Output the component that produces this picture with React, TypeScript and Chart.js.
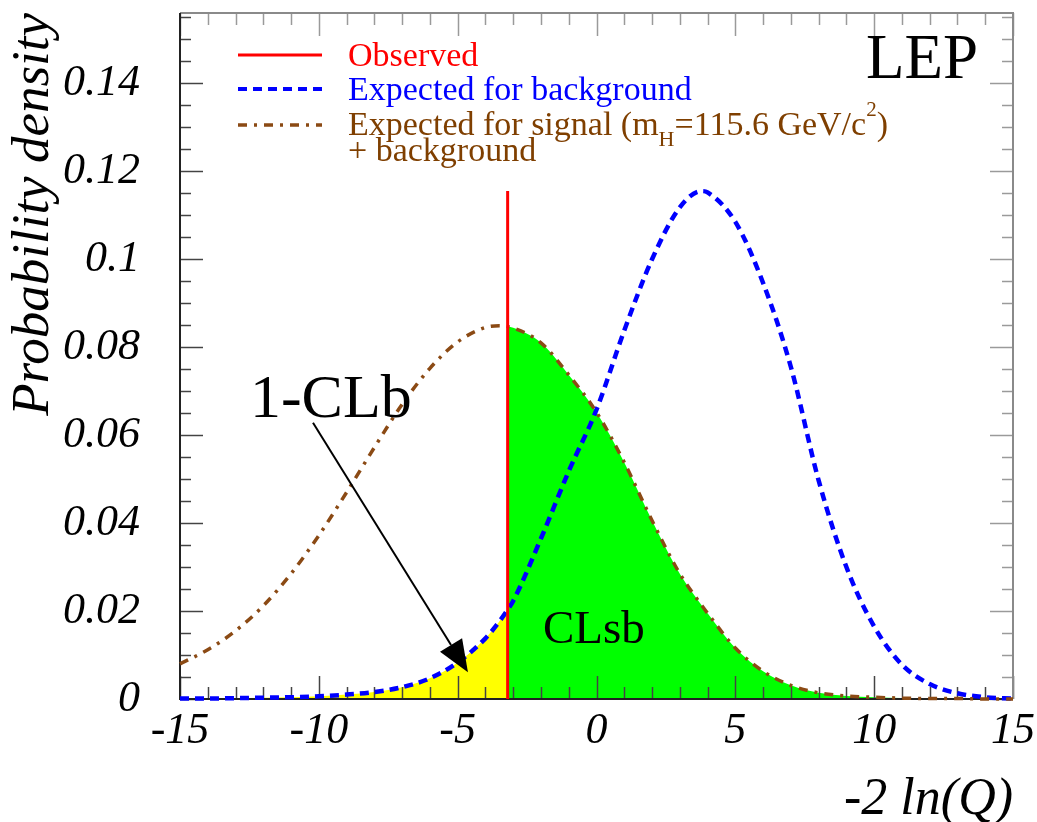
import React, { useEffect, useRef } from "react";
import { Chart, registerables } from "chart.js";

Chart.register(...registerables);

// Test statistic grid, -2 ln(Q)
const X_VALUES = [
  -15, -14, -13, -12, -11, -10, -9, -8, -7, -6, -5, -4, -3.5, -3.2, -3, -2, -1,
  0, 1, 2, 3, 3.8, 4, 5, 6, 7, 8, 9, 10, 11, 12, 13, 14, 15,
];

// Probability density expected for background only
const BACKGROUND_PDF = [
  0.0001, 0.0001, 0.0002, 0.0003, 0.0004, 0.0006, 0.001, 0.0016, 0.0027,
  0.0047, 0.0083, 0.0138, 0.0176, 0.0203, 0.0223, 0.0365, 0.0518, 0.0658,
  0.0838, 0.1, 0.1118, 0.1155, 0.1152, 0.1085, 0.0946, 0.0755, 0.0497, 0.03,
  0.0165, 0.0078, 0.0034, 0.0013, 0.0004, 0.0001,
];

// Probability density expected for signal (mH = 115.6 GeV/c^2) + background
const SIGNAL_PLUS_BACKGROUND_PDF = [
  0.008, 0.0112, 0.0155, 0.0212, 0.0285, 0.0372, 0.047, 0.0572, 0.067,
  0.0752, 0.0812, 0.0845, 0.0849, 0.0847, 0.0844, 0.081, 0.0737, 0.0652,
  0.0538, 0.0406, 0.0285, 0.0212, 0.0195, 0.0116, 0.0063, 0.0031, 0.0014,
  0.0007, 0.0004, 0.0002, 0.0001, 0.0001, 0, 0,
];

// Observed value of the test statistic
const OBSERVED_Q = -3.2;
const OBSERVED_LINE_TOP = 0.1155;

const X_TICKS = [-15, -10, -5, 0, 5, 10, 15];
const Y_TICKS = [0, 0.02, 0.04, 0.06, 0.08, 0.1, 0.12, 0.14];
const X_MIN = -15;
const X_MAX = 15;
const Y_MIN = 0;
const Y_MAX = 0.156;
const X_MINOR_STEP = 1;
const Y_MINOR_STEP = 0.005;

const SERIF = '"Liberation Serif", "DejaVu Serif", serif';

// Annotation anchors in data units
const LEP_LABEL = { x: 13.74, y: 0.1412 };
const CLB_LABEL = { x: -12.48, y: 0.0641 };
const CLB_ARROW_FROM = { x: -10.21, y: 0.0628 };
const CLB_ARROW_TO = { x: -4.63, y: 0.0061 };
const CLSB_LABEL = { x: -1.93, y: 0.0127 };

const COLORS = {
  observed: "#ff0000",
  background: "#0000ff",
  signal: "#8b4a14",
  signalText: "#7f3f00",
  clb: "#ffff00",
  clsb: "#00ff00",
};

const toPoints = (ys: number[]) => X_VALUES.map((x, i) => ({ x, y: ys[i] }));

// ROOT-style frame with inward ticks on all four sides
const framePlugin = {
  id: "rootFrame",
  afterDatasetDraw(chart: any, args: any) {
    if (args.index !== 1) return;
    const { ctx, chartArea } = chart;
    const { left, right, top, bottom } = chartArea;
    const xs = chart.scales.x;
    const ys = chart.scales.y;
    ctx.save();
    ctx.lineWidth = 1.5;
    const nx = Math.round((X_MAX - X_MIN) / X_MINOR_STEP);
    for (let i = 0; i <= nx; i++) {
      const v = X_MIN + i * X_MINOR_STEP;
      const px = Math.round(xs.getPixelForValue(v)) + 0.5;
      const major = X_TICKS.some((t) => Math.abs(t - v) < 1e-9);
      const len = major ? 23 : 12;
      ctx.strokeStyle = "#444";
      ctx.beginPath();
      ctx.moveTo(px, bottom);
      ctx.lineTo(px, bottom - len);
      ctx.stroke();
      ctx.strokeStyle = "#9a9a9a";
      ctx.beginPath();
      ctx.moveTo(px, top);
      ctx.lineTo(px, top + len);
      ctx.stroke();
    }
    const ny = Math.floor((Y_MAX - Y_MIN) / Y_MINOR_STEP + 1e-9);
    for (let i = 0; i <= ny; i++) {
      const v = Y_MIN + i * Y_MINOR_STEP;
      const py = Math.round(ys.getPixelForValue(v)) + 0.5;
      const major = Y_TICKS.some((t) => Math.abs(t - v) < 1e-9);
      const len = major ? 23 : 11;
      ctx.strokeStyle = "#444";
      ctx.beginPath();
      ctx.moveTo(left, py);
      ctx.lineTo(left + len, py);
      ctx.stroke();
      ctx.strokeStyle = "#9a9a9a";
      ctx.beginPath();
      ctx.moveTo(right, py);
      ctx.lineTo(right - len, py);
      ctx.stroke();
    }
    ctx.lineWidth = 2;
    ctx.strokeStyle = "#8a8a8a";
    ctx.beginPath();
    ctx.moveTo(left, top);
    ctx.lineTo(right, top);
    ctx.lineTo(right, bottom);
    ctx.stroke();
    ctx.strokeStyle = "#222";
    ctx.beginPath();
    ctx.moveTo(left, top);
    ctx.lineTo(left, bottom);
    ctx.lineTo(right, bottom);
    ctx.stroke();
    ctx.restore();
  },
};

// Legend, experiment tag and region labels
const annotationPlugin = {
  id: "lepAnnotations",
  afterDraw(chart: any) {
    const { ctx, chartArea } = chart;
    const xs = chart.scales.x;
    const ys = chart.scales.y;
    const px = (v: number) => xs.getPixelForValue(v);
    const py = (v: number) => ys.getPixelForValue(v);
    const L = chartArea.left;
    const T = chartArea.top;
    ctx.save();

    // legend samples
    const sx0 = L + 58;
    const sx1 = L + 142;
    ctx.lineCap = "butt";
    ctx.strokeStyle = COLORS.observed;
    ctx.lineWidth = 3;
    ctx.setLineDash([]);
    ctx.beginPath();
    ctx.moveTo(sx0, T + 42);
    ctx.lineTo(sx1, T + 42);
    ctx.stroke();
    ctx.strokeStyle = COLORS.background;
    ctx.lineWidth = 4;
    ctx.setLineDash([9, 6]);
    ctx.beginPath();
    ctx.moveTo(sx0, T + 76);
    ctx.lineTo(sx1, T + 76);
    ctx.stroke();
    ctx.strokeStyle = COLORS.signal;
    ctx.lineWidth = 3.5;
    ctx.setLineDash([9, 7, 3, 7]);
    ctx.beginPath();
    ctx.moveTo(sx0, T + 112);
    ctx.lineTo(sx1, T + 112);
    ctx.stroke();
    ctx.setLineDash([]);

    // legend texts
    const tx = L + 168;
    ctx.textAlign = "left";
    ctx.textBaseline = "alphabetic";
    ctx.font = `34px ${SERIF}`;
    ctx.fillStyle = COLORS.observed;
    ctx.fillText("Observed", tx, T + 53);
    ctx.fillStyle = COLORS.background;
    ctx.fillText("Expected for background", tx, T + 87);
    ctx.fillStyle = COLORS.signalText;
    let cx = tx;
    const base = T + 122;
    const part = (s: string, size: number, dy: number) => {
      ctx.font = `${size}px ${SERIF}`;
      ctx.fillText(s, cx, base + dy);
      cx += ctx.measureText(s).width;
    };
    part("Expected for signal (m", 34, 0);
    part("H", 22, 11);
    part("=115.6 GeV/c", 34, 0);
    part("2", 21, -19);
    part(")", 34, 0);
    ctx.font = `34px ${SERIF}`;
    ctx.fillText("+ background", tx, T + 148);

    // experiment tag
    ctx.fillStyle = "#000";
    ctx.font = `63px ${SERIF}`;
    ctx.textAlign = "right";
    ctx.fillText("LEP", px(LEP_LABEL.x), py(LEP_LABEL.y));

    // region labels
    ctx.textAlign = "left";
    ctx.font = `62px ${SERIF}`;
    ctx.fillText("1-CLb", px(CLB_LABEL.x), py(CLB_LABEL.y));
    ctx.font = `47px ${SERIF}`;
    ctx.fillText("CLsb", px(CLSB_LABEL.x), py(CLSB_LABEL.y));

    // arrow to the 1-CLb tail
    const ax0 = px(CLB_ARROW_FROM.x);
    const ay0 = py(CLB_ARROW_FROM.y);
    const ax1 = px(CLB_ARROW_TO.x);
    const ay1 = py(CLB_ARROW_TO.y);
    const ang = Math.atan2(ay1 - ay0, ax1 - ax0);
    const headLen = 32;
    const headHalf = 13;
    const bx = ax1 - headLen * Math.cos(ang);
    const by = ay1 - headLen * Math.sin(ang);
    ctx.strokeStyle = "#000";
    ctx.lineWidth = 2;
    ctx.beginPath();
    ctx.moveTo(ax0, ay0);
    ctx.lineTo(bx, by);
    ctx.stroke();
    ctx.fillStyle = "#000";
    ctx.beginPath();
    ctx.moveTo(ax1, ay1);
    ctx.lineTo(bx + headHalf * Math.sin(ang), by - headHalf * Math.cos(ang));
    ctx.lineTo(bx - headHalf * Math.sin(ang), by + headHalf * Math.cos(ang));
    ctx.closePath();
    ctx.fill();
    ctx.restore();
  },
};

export default function App() {
  const canvasRef = useRef<HTMLCanvasElement | null>(null);

  useEffect(() => {
    const canvas = canvasRef.current;
    if (!canvas) return;
    const bgPoints = toPoints(BACKGROUND_PDF);
    const sbPoints = toPoints(SIGNAL_PLUS_BACKGROUND_PDF);
    const common = {
      pointRadius: 0,
      pointHoverRadius: 0,
      cubicInterpolationMode: "monotone" as const,
    };

    const chart = new Chart(canvas, {
      type: "line",
      data: {
        datasets: [
          {
            ...common,
            label: "1-CLb",
            data: bgPoints.filter((p) => p.x <= OBSERVED_Q),
            fill: "origin",
            backgroundColor: COLORS.clb,
            borderColor: "transparent",
            borderWidth: 0,
            order: 3,
          },
          {
            ...common,
            label: "CLsb",
            data: sbPoints.filter((p) => p.x >= OBSERVED_Q),
            fill: "origin",
            backgroundColor: COLORS.clsb,
            borderColor: "transparent",
            borderWidth: 0,
            order: 2,
          },
          {
            ...common,
            label: "Expected for signal + background",
            data: sbPoints,
            fill: false,
            borderColor: COLORS.signal,
            borderWidth: 3.5,
            borderDash: [9, 7, 3, 7],
            borderCapStyle: "butt",
            clip: 6,
            order: 1,
          },
          {
            ...common,
            label: "Expected for background",
            data: bgPoints,
            fill: false,
            borderColor: COLORS.background,
            borderWidth: 4.5,
            borderDash: [9, 6],
            borderCapStyle: "butt",
            clip: 6,
            order: 1,
          },
          {
            label: "Observed",
            data: [
              { x: OBSERVED_Q, y: 0 },
              { x: OBSERVED_Q, y: OBSERVED_LINE_TOP },
            ],
            fill: false,
            pointRadius: 0,
            tension: 0,
            borderColor: COLORS.observed,
            borderWidth: 3,
            clip: 6,
            order: 0,
          },
        ],
      },
      options: {
        animation: false,
        responsive: false,
        maintainAspectRatio: false,
        devicePixelRatio: 1,
        events: [],
        layout: { padding: { top: 13, right: 24, left: 0, bottom: 0 } },
        plugins: {
          legend: { display: false },
          tooltip: { enabled: false },
        },
        scales: {
          x: {
            type: "linear",
            min: X_MIN,
            max: X_MAX,
            afterBuildTicks: (s: any) => {
              s.ticks = X_TICKS.map((value) => ({ value }));
            },
            afterFit: (s: any) => {
              s.height = 123;
              s.paddingLeft = 0;
              s.paddingRight = 0;
            },
            grid: { display: false, drawTicks: false },
            border: { display: false },
            ticks: {
              autoSkip: false,
              maxRotation: 0,
              minRotation: 0,
              padding: 6,
              color: "#000",
              font: { family: SERIF, style: "italic", size: 44 },
              callback: (v: any) => String(v),
            },
            title: {
              display: true,
              text: "-2 ln(Q)",
              align: "end",
              color: "#000",
              font: { family: SERIF, style: "italic", size: 52, lineHeight: 0.8 },
              padding: { top: 0, bottom: 1 },
            },
          },
          y: {
            type: "linear",
            min: Y_MIN,
            max: Y_MAX,
            afterBuildTicks: (s: any) => {
              s.ticks = Y_TICKS.map((value) => ({ value }));
            },
            afterFit: (s: any) => {
              s.width = 180;
              s.paddingTop = 0;
              s.paddingBottom = 0;
            },
            grid: { display: false, drawTicks: false },
            border: { display: false },
            ticks: {
              autoSkip: false,
              padding: 40,
              color: "#000",
              font: { family: SERIF, style: "italic", size: 44 },
              callback: (v: any) => (v === 0 ? "0" : String(Number(Number(v).toFixed(3)))),
            },
            title: {
              display: true,
              text: "Probability density",
              align: "end",
              color: "#000",
              font: { family: SERIF, style: "italic", size: 53, lineHeight: 1.2 },
              padding: { top: 2, bottom: 0 },
            },
          },
        },
      },
      plugins: [framePlugin, annotationPlugin],
    } as any);

    return () => chart.destroy();
  }, []);

  return (
    <div
      style={{
        position: "fixed",
        left: 0,
        top: 0,
        width: 1037,
        height: 822,
        background: "#fff",
      }}
    >
      <canvas
        ref={canvasRef}
        width={1037}
        height={822}
        style={{ display: "block", width: 1037, height: 822 }}
      />
    </div>
  );
}
